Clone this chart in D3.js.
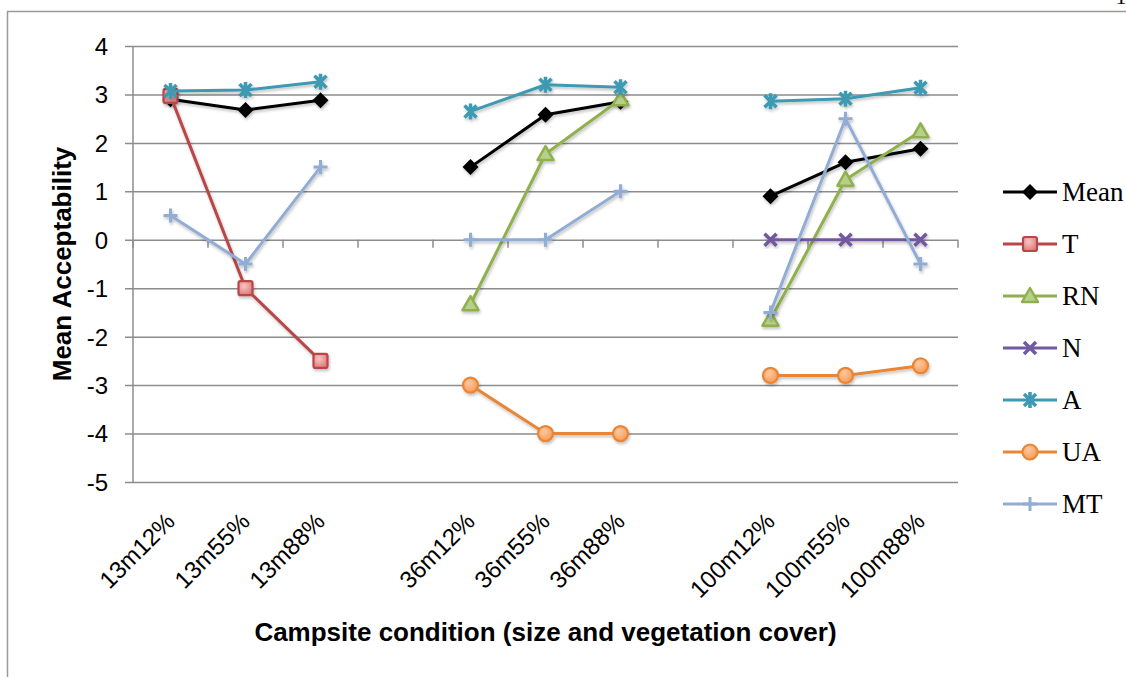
<!DOCTYPE html>
<html>
<head>
<meta charset="utf-8">
<script src="https://cdn.jsdelivr.net/npm/d3@7"></script>
<style>
  html, body { margin: 0; padding: 0; background: #fff; }
  svg { display: block; }
</style>
</head>
<body>
<svg id="chart" width="1126" height="677"></svg>
<script>
// 類別（空字串為組間空位）
const categories = ['13m12%', '13m55%', '13m88%', '', '36m12%', '36m55%', '36m88%', '', '100m12%', '100m55%', '100m88%'];
const yTicks = [4, 3, 2, 1, 0, -1, -2, -3, -4, -5];

// 各系列數值
const meanValues = [2.9, 2.68, 2.88, null, 1.5, 2.58, 2.85, null, 0.9, 1.6, 1.88];
const tValues    = [2.97, -1, -2.5, null, null, null, null, null, null, null, null];
const rnValues   = [null, null, null, null, -1.33, 1.77, 2.9, null, -1.65, 1.24, 2.24];
const nValues    = [null, null, null, null, null, null, null, null, 0, 0, 0];
const aValues    = [3.07, 3.09, 3.26, null, 2.65, 3.2, 3.15, null, 2.86, 2.91, 3.14];
const uaValues   = [null, null, null, null, -3, -4, -4, null, -2.8, -2.8, -2.6];
const mtValues   = [0.5, -0.5, 1.5, null, 0, 0, 1, null, -1.5, 2.5, -0.5];

const seriesNames = ['Mean', 'T', 'RN', 'N', 'A', 'UA', 'MT'];
const seriesValues = [meanValues, tValues, rnValues, nValues, aValues, uaValues, mtValues];

const styles = {
    Mean: { color: '#000000', marker: 'diamond' },
    T:    { color: '#B8474A', marker: 'square' },
    RN:   { color: '#8FB04E', marker: 'triangle' },
    N:    { color: '#7259A0', marker: 'x' },
    A:    { color: '#3E9AB2', marker: 'star' },
    UA:   { color: '#E98535', marker: 'circle' },
    MT:   { color: '#91ACD5', marker: 'plus' }
};

const svg = d3.select('#chart');
const margin = { top: 46, left: 133, right: 168, bottom: 195 };
const width = 1126 - margin.left - margin.right;   // 825
const height = 677 - margin.top - margin.bottom;   // 436

// 濾鏡與漸層
const defs = svg.append('defs');
const shadow = defs.append('filter').attr('id', 'shadow').attr('x', '-20%').attr('y', '-20%').attr('width', '140%').attr('height', '140%');
shadow.append('feDropShadow').attr('dx', 1).attr('dy', 2).attr('stdDeviation', 1.5)
    .attr('flood-color', '#000').attr('flood-opacity', 0.25);

const gradT = defs.append('radialGradient').attr('id', 'gradT').attr('cx', '40%').attr('cy', '35%').attr('r', '70%');
gradT.append('stop').attr('offset', '0%').attr('stop-color', '#F7C6C4');
gradT.append('stop').attr('offset', '100%').attr('stop-color', '#DE7875');
const gradUA = defs.append('radialGradient').attr('id', 'gradUA').attr('cx', '40%').attr('cy', '35%').attr('r', '70%');
gradUA.append('stop').attr('offset', '0%').attr('stop-color', '#FCC9A2');
gradUA.append('stop').attr('offset', '100%').attr('stop-color', '#F59A52');

// 外框線
svg.append('line').attr('x1', 7).attr('x2', 1126).attr('y1', 11.5).attr('y2', 11.5)
    .attr('stroke', '#9a9a9a').attr('stroke-width', 1.5);
svg.append('line').attr('x1', 7.5).attr('x2', 7.5).attr('y1', 11).attr('y2', 677)
    .attr('stroke', '#9a9a9a').attr('stroke-width', 1.5);
svg.append('text').attr('x', 1121).attr('y', 4).attr('text-anchor', 'middle')
    .attr('font-family', 'Liberation Serif, serif').attr('font-size', 22).text('1');

const x = d3.scaleBand().domain(d3.range(categories.length)).range([0, width]);
const y = d3.scaleLinear().domain([-5, 4]).range([height, 0]);

const g = svg.append('g').attr('transform', `translate(${margin.left},${margin.top})`);

// 格線與 y 軸
const yAxis = d3.axisLeft(y).tickValues(yTicks).tickSize(-width).tickFormat(d => d);
const yg = g.append('g').call(yAxis);
yg.select('.domain').remove();
yg.selectAll('.tick line').attr('x1', -8).attr('stroke', '#8c8c8c').attr('stroke-width', 1.5);
yg.selectAll('.tick text').attr('x', -25).attr('dy', '0.35em')
    .attr('font-family', 'Liberation Sans, Arial, sans-serif').attr('font-size', 24).attr('fill', '#000');
g.append('line').attr('x1', 0).attr('x2', 0).attr('y1', 0).attr('y2', height)
    .attr('stroke', '#8c8c8c').attr('stroke-width', 1.5);

// x 軸（位於 0）與刻度
const boundaries = d3.range(categories.length + 1).map(i => i * x.step());
g.selectAll('.xtick').data(boundaries).enter().append('line')
    .attr('x1', d => d).attr('x2', d => d)
    .attr('y1', y(0)).attr('y2', y(0) + 8)
    .attr('stroke', '#8c8c8c').attr('stroke-width', 1.5);

// x 軸標籤
g.selectAll('.xlabel').data(categories.map((c, i) => ({ c, i })).filter(d => d.c !== ''))
    .enter().append('text')
    .attr('transform', d => `translate(${x(d.i) + x.bandwidth() / 2},${height + 35}) rotate(-45)`)
    .attr('text-anchor', 'end').attr('dy', '0.35em')
    .attr('font-family', 'Liberation Sans, Arial, sans-serif').attr('font-size', 24)
    .text(d => d.c);

// 軸標題
svg.append('text').attr('x', margin.left + width / 2).attr('y', 641).attr('text-anchor', 'middle')
    .attr('font-family', 'Liberation Sans, Arial, sans-serif').attr('font-weight', 'bold').attr('font-size', 26)
    .text('Campsite condition (size and vegetation cover)');
svg.append('text').attr('transform', `translate(71,${margin.top + height / 2}) rotate(-90)`)
    .attr('text-anchor', 'middle')
    .attr('font-family', 'Liberation Sans, Arial, sans-serif').attr('font-weight', 'bold').attr('font-size', 26)
    .text('Mean Acceptability');

// 標記繪製
function drawMarker(sel, type, color) {
    switch (type) {
        case 'diamond':
            sel.append('path').attr('d', 'M0,-8L8,0L0,8L-8,0Z').attr('fill', color);
            break;
        case 'square':
            sel.append('rect').attr('x', -7).attr('y', -7).attr('width', 14).attr('height', 14).attr('rx', 2)
                .attr('fill', 'url(#gradT)').attr('stroke', color).attr('stroke-width', 2.2);
            break;
        case 'triangle':
            sel.append('path').attr('d', 'M0,-8L8,6L-8,6Z').attr('fill', '#B6D08A')
                .attr('stroke', color).attr('stroke-width', 2.5).attr('stroke-linejoin', 'round');
            break;
        case 'x':
            sel.append('path').attr('d', 'M-6,-6L6,6M-6,6L6,-6').attr('stroke', color).attr('stroke-width', 3.5);
            break;
        case 'star':
            sel.append('path').attr('d', 'M-6,-6L6,6M-6,6L6,-6M0,-8L0,8').attr('stroke', color).attr('stroke-width', 3.5);
            break;
        case 'circle':
            sel.append('circle').attr('r', 7.5).attr('fill', 'url(#gradUA)').attr('stroke', color).attr('stroke-width', 2.2);
            break;
        case 'plus':
            sel.append('path').attr('d', 'M-7,0L7,0M0,-7L0,7').attr('stroke', color).attr('stroke-width', 3);
            break;
    }
}

const line = d3.line()
    .defined(d => d.v !== null)
    .x(d => x(d.i) + x.bandwidth() / 2)
    .y(d => y(d.v));

// 繪製各系列
seriesNames.forEach((name, k) => {
    const st = styles[name];
    const pts = seriesValues[k].map((v, i) => ({ v, i }));
    const sg = g.append('g').attr('filter', 'url(#shadow)');
    sg.append('path').datum(pts).attr('d', line)
        .attr('fill', 'none').attr('stroke', st.color).attr('stroke-width', 3).attr('stroke-linejoin', 'round');
    pts.filter(d => d.v !== null).forEach(d => {
        const mg = sg.append('g').attr('transform', `translate(${x(d.i) + x.bandwidth() / 2},${y(d.v)})`);
        drawMarker(mg, st.marker, st.color);
    });
});

// 圖例
const legend = svg.append('g').attr('transform', 'translate(1003,192)');
seriesNames.forEach((name, k) => {
    const st = styles[name];
    const lg = legend.append('g').attr('transform', `translate(0,${k * 52})`);
    lg.append('line').attr('x1', 0).attr('x2', 54).attr('y1', 0).attr('y2', 0)
        .attr('stroke', st.color).attr('stroke-width', 3);
    drawMarker(lg.append('g').attr('transform', 'translate(27,0)'), st.marker, st.color);
    lg.append('text').attr('x', 59).attr('y', 0).attr('dy', '0.35em')
        .attr('font-family', 'Liberation Serif, Times New Roman, serif').attr('font-size', 27)
        .text(name);
});
</script>
</body>
</html>
